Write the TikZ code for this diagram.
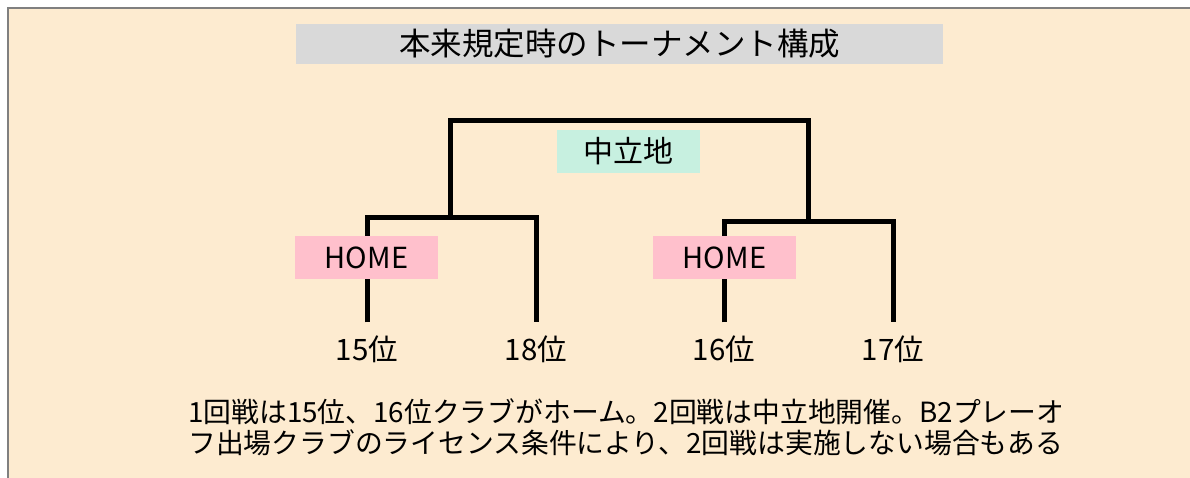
\documentclass[tikz,border=0pt]{standalone}
\usepackage{fontspec}
\setmainfont{Noto Sans CJK JP}
\usepackage{tikz}

\definecolor{fundo}{RGB}{253,235,208}
\definecolor{cinza}{RGB}{217,217,217}
\definecolor{menta}{RGB}{199,240,224}
\definecolor{rosa}{RGB}{255,192,204}

\begin{document}
\begin{tikzpicture}[x=1pt, y=-1pt, line join=miter]
                \tikzstyle{caixa}=[inner sep=0pt, minimum width=143pt, minimum height=43pt, font=\fontsize{29}{30}\selectfont]
                \tikzstyle{posicao}=[inner sep=0pt, font=\fontsize{29.5}{30}\selectfont]
                \tikzstyle{chave}=[line width=5pt, shorten <=13pt, shorten >=13pt]

                    % Fundo
                    \useasboundingbox (0,0) rectangle (1190,478);
                    \draw[fill=fundo, draw=gray, line width=2pt] (8,8) rectangle (1200,490);

                    % Título
                    \node[fill=cinza, minimum width=647pt, minimum height=40pt, inner sep=0pt, font=\fontsize{31.5}{32}\selectfont] (titulo) at (619.5,44) {本来規定時のトーナメント構成};

                    % Nós
                    \node[posicao] (s15) at (367,349) {15位};
                    \node[posicao] (s18) at (536,349) {18位};
                    \node[posicao] (s16) at (724,349) {16位};
                    \node[posicao] (s17) at (893,349) {17位};
                    \coordinate (m1) at (450,218);
                    \coordinate (m2) at (808,222);

                    % Arestas
                    \draw[chave] (s15.north) |- (m1) -| (s18.north);
                    \draw[chave] (s16.north) |- (m2) -| (s17.north);
                    \draw[line width=5pt] (m1) |- (629,121) -| (m2);

                    % Caixas
                    \node[caixa, fill=menta, font=\fontsize{30}{31}\selectfont] (neutro) at (628.5,151.5) {中立地};
                    \node[caixa, fill=rosa] (casa1) at (366.5,257.5) {HOME};
                    \node[caixa, fill=rosa] (casa2) at (724.5,257.5) {HOME};

                    % Nota
                    \node[anchor=west, align=left, inner sep=0pt, font=\fontsize{27.8}{31}\selectfont] (nota) at (188,427.5) {1回戦は15位、16位クラブがホーム。2回戦は中立地開催。B2プレーオ\\フ出場クラブのライセンス条件により、2回戦は実施しない場合もある};
            \end{tikzpicture}
\end{document}
